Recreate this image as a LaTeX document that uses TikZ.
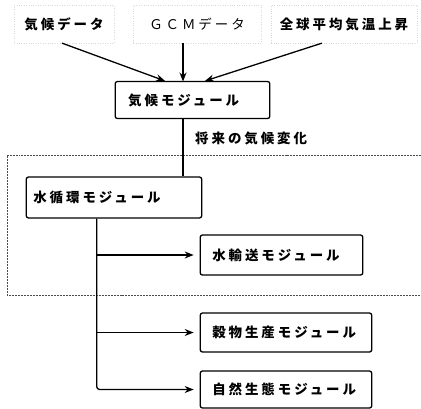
\documentclass[tikz,border=0pt]{standalone}
\usepackage{fontspec}
\usetikzlibrary{arrows.meta,calc}
\newfontfamily\jpb{Noto Sans CJK JP Black}[LetterSpace=22]
\newfontfamily\jpr{Noto Sans CJK JP}[LetterSpace=22]
\tikzset{
  inbox/.style={font=\jpb\fontsize{13.5}{14}\selectfont, draw=gray!30, dotted, inner xsep=6, minimum height=38},
  modbox/.style={draw, line width=1.3pt, rounded corners=2pt, align=left,
     font=\jpb\fontsize{13.5}{14}\selectfont, inner ysep=0pt},
  conn/.style={line width=1.3pt},
  arr/.style={conn, -{Stealth[length=9pt,width=7pt]}},
  region/.style={line width=0.7pt, gray!60!black, dash pattern=on 2pt off 1pt}
}
\begin{document}
\begin{tikzpicture}[x=1bp,y=-1bp]
\useasboundingbox (0,0) rectangle (421,409);
% inputs
\node[inbox, minimum width=100] (in1) at (64,24) {気候データ};
\node[inbox, minimum width=128, font=\jpr\fontsize{13.5}{14}\selectfont] (in2) at (197,24) {ＧＣＭデータ};
\node[inbox, minimum width=146] (in3) at (344,24) {全球平均気温上昇};
% modules
\node[modbox, text width=129, inner xsep=13, minimum height=37] (clim) at (192.5,100) {気候モジュール};
\node[modbox, text width=162, inner xsep=7, minimum height=41] (water) at (114,197.5) {水循環モジュール};
\node[modbox, text width=139, inner xsep=12, minimum height=40] (trans) at (281.5,255) {水輸送モジュール};
\node[modbox, text width=148, inner xsep=12, minimum height=39] (crop) at (286,332.5) {穀物生産モジュール};
\node[modbox, text width=148, inner xsep=12, minimum height=37] (eco) at (286,389.5) {自然生態モジュール};
% label
\node[font=\jpb\fontsize{13.5}{14}\selectfont, anchor=west, inner sep=0] (lab) at (195,138) {将来の気候変化};
% region
\draw[region] (421,155) -- (7,155) -- (7,295) -- (421,295);
% input arrows
\draw[arr] ($(in1.south)+(-2,0)$) -- ($(clim.north)+(-27.5,0)$);
\draw[arr] (183,43) -- (183,81.5);
\draw[arr] ($(in3.south)+(-22,0)$) -- ($(clim.north)+(12.5,0)$);
% climate to water
\coordinate (cw) at ($(clim.south)+(-9.5,0)$);
\draw[conn] (cw) -- (cw |- water.north);
% trunk
\coordinate (tr) at ($(water.south west)+(71,0)$);
\draw[arr] (tr |- trans.west) -- ($(trans.west)+(-6,0)$);
\draw[arr] (tr |- crop.west) -- ($(crop.west)+(-6,0)$);
\draw[arr, rounded corners=3pt] (tr) -- (tr |- eco.west) -- ($(eco.west)+(-6,0)$);
\end{tikzpicture}
\end{document}
